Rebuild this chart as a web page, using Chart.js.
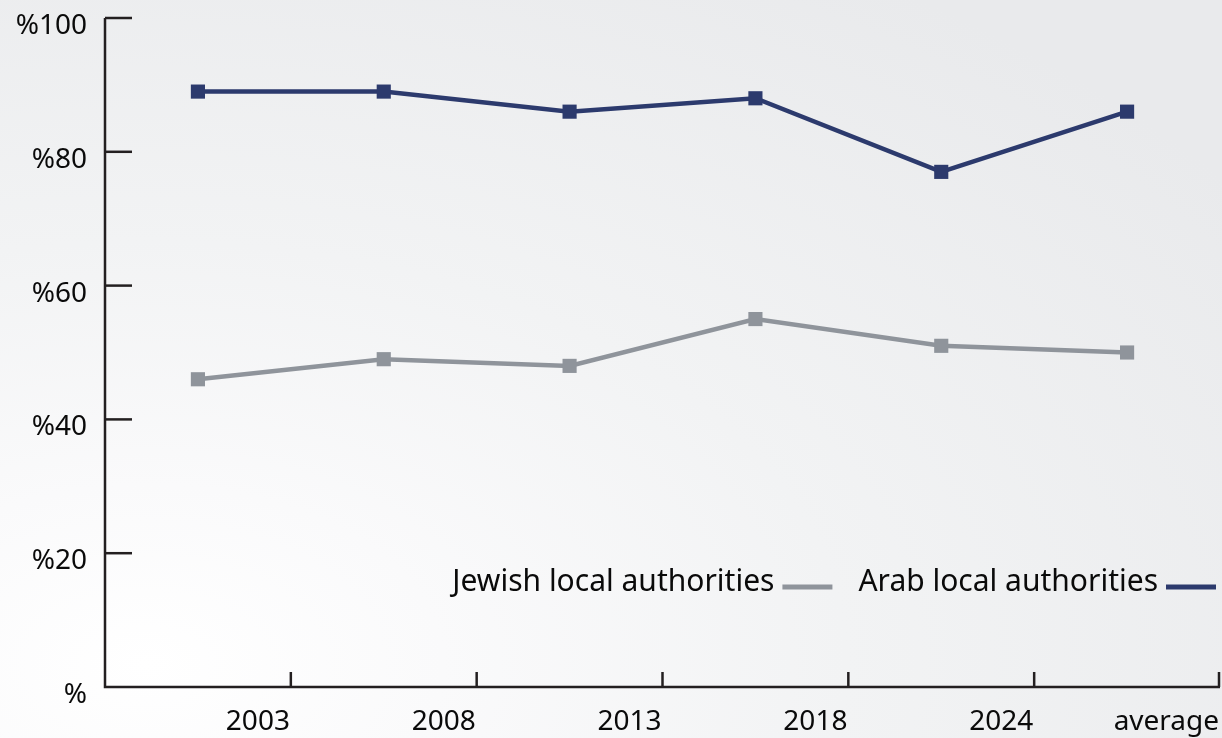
<!DOCTYPE html>
<html>
<head>
<meta charset="utf-8">
<script src="https://cdn.jsdelivr.net/npm/chart.js@4/dist/chart.umd.min.js"></script>
<style>
  html, body { margin: 0; padding: 0; }
  body {
    width: 1222px;
    height: 738px;
    overflow: hidden;
    background: radial-gradient(ellipse 110% 110% at 12% 90%, #ffffff 0%, #fafafb 22%, #f2f3f4 52%, #e9eaec 100%);
  }
  #chart { display: block; }
</style>
</head>
<body>
<canvas id="chart" width="1222" height="738"></canvas>
<script>
const years = ['2003', '2008', '2013', '2018', '2024', 'average'];
const arabValues = [89, 89, 86, 88, 77, 86];
const jewishValues = [46, 49, 48, 55, 51, 50];
const yTicks = [0, 20, 40, 60, 80, 100];

const NAVY = '#2c3a6d';
const GREY = '#8f949b';
const AXIS = '#231f20';
const TEXT = '#0a0a0a';
const FONT = '"Noto Sans", sans-serif';

// axis lines plus the short inward tick marks
const axisPlugin = {
    id: 'axisMarks',
    afterDraw(chart) {
        const ctx = chart.ctx;
        const area = chart.chartArea;
        const x = chart.scales.x;
        const y = chart.scales.y;
        ctx.save();
        ctx.strokeStyle = AXIS;
        ctx.lineWidth = 2.5;
        ctx.beginPath();
        ctx.moveTo(area.left, area.top);
        ctx.lineTo(area.left, area.bottom);
        ctx.lineTo(area.right, area.bottom);
        ctx.stroke();

        yTicks.forEach(v => {
            if (v === 0) return;
            const py = y.getPixelForValue(v);
            ctx.beginPath();
            ctx.moveTo(area.left, py);
            ctx.lineTo(area.left + 27, py);
            ctx.stroke();
        });

        const half = (x.getPixelForValue(1) - x.getPixelForValue(0)) / 2;
        years.forEach((yr, i) => {
            const px = Math.min(x.getPixelForValue(i) + half, area.right - 1);
            ctx.beginPath();
            ctx.moveTo(px, area.bottom);
            ctx.lineTo(px, area.bottom - 15);
            ctx.stroke();
        });
        ctx.restore();
    }
};

// right-to-left legend inside the plot area
const legendPlugin = {
    id: 'innerLegend',
    afterDraw(chart) {
        const ctx = chart.ctx;
        const area = chart.chartArea;
        const ly = 582;
        let right = area.right - 4;
        ctx.save();
        ctx.font = '30px ' + FONT;
        ctx.textBaseline = 'middle';
        ctx.textAlign = 'right';
        chart.data.datasets.forEach(ds => {
            ctx.strokeStyle = ds.borderColor;
            ctx.lineWidth = 5;
            ctx.beginPath();
            ctx.moveTo(right - 50, ly + 5);
            ctx.lineTo(right, ly + 5);
            ctx.stroke();
            right -= 58;
            ctx.fillStyle = TEXT;
            ctx.fillText(ds.label, right, ly);
            right -= ctx.measureText(ds.label).width + 26;
        });
        ctx.restore();
    }
};

new Chart(document.getElementById('chart'), {
    type: 'line',
    data: {
        labels: years,
        datasets: [
            {
                label: 'Arab local authorities',
                data: arabValues,
                borderColor: NAVY,
                backgroundColor: NAVY,
                borderWidth: 4.5,
                pointStyle: 'rect',
                pointRadius: 10,
                pointBorderWidth: 0,
                tension: 0
            },
            {
                label: 'Jewish local authorities',
                data: jewishValues,
                borderColor: GREY,
                backgroundColor: GREY,
                borderWidth: 4.5,
                pointStyle: 'rect',
                pointRadius: 10,
                pointBorderWidth: 0,
                tension: 0
            }
        ]
    },
    options: {
        responsive: false,
        animation: false,
        layout: { autoPadding: false, padding: { top: 18, right: 2, left: 0, bottom: 0 } },
        plugins: {
            legend: { display: false },
            tooltip: { enabled: false }
        },
        scales: {
            x: {
                type: 'category',
                offset: true,
                grid: { display: false, drawTicks: false },
                border: { display: false },
                ticks: {
                    color: TEXT,
                    font: { family: FONT, size: 28 },
                    align: 'end',
                    labelOffset: 92,
                    padding: 18,
                    autoSkip: false,
                    maxRotation: 0
                },
                afterFit(scale) {
                    scale.height = 51;
                    scale.paddingLeft = 0;
                    scale.paddingRight = 0;
                }
            },
            y: {
                min: 0,
                max: 100,
                grid: { display: false, drawTicks: false },
                border: { display: false },
                ticks: {
                    stepSize: 20,
                    color: TEXT,
                    font: { family: FONT, size: 28 },
                    padding: 18,
                    labelOffset: 8,
                    callback: v => v === 0 ? '%' : '%' + v
                },
                afterFit(scale) {
                    scale.width = 105;
                    scale.paddingTop = 0;
                    scale.paddingBottom = 0;
                }
            }
        }
    },
    plugins: [axisPlugin, legendPlugin]
});
</script>
</body>
</html>
